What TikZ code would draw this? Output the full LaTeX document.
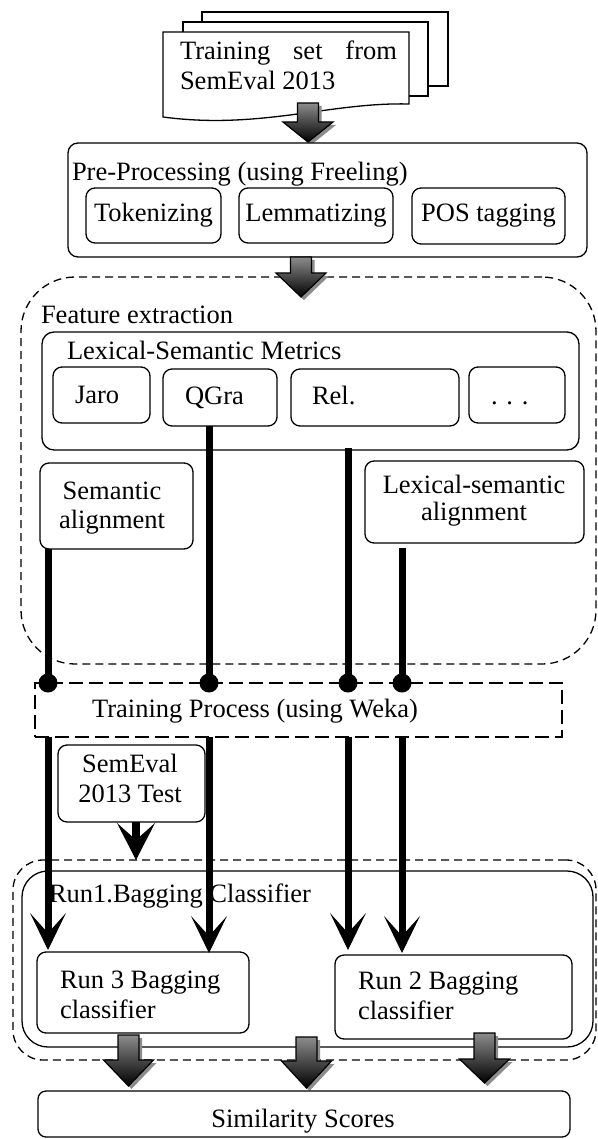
\documentclass[tikz,border=0pt]{standalone}
\usepackage{fontspec}
\setmainfont{Liberation Serif}
\usetikzlibrary{arrows.meta}
\newcommand{\blockarr}[4]{%
  \fill[black!45, shift={(3,3)}] (#1-10.5,#2) -- (#1+10.5,#2) -- (#1+10.5,#3) -- (#1+25,#3) -- (#1,#4) -- (#1-25,#3) -- (#1-10.5,#3) -- cycle;
  \shade[top color=black!45, bottom color=black, draw=black, line width=1.2pt] (#1-10.5,#2) -- (#1+10.5,#2) -- (#1+10.5,#3) -- (#1+25,#3) -- (#1,#4) -- (#1-25,#3) -- (#1-10.5,#3) -- cycle;}
\begin{document}
\begin{tikzpicture}[x=1pt,y=-1pt,
  every node/.style={inner sep=0pt, outer sep=0pt, font=\fontsize{26.5pt}{30pt}\selectfont},
  txt/.style={text height=18pt, text depth=6pt},
  box/.style={draw, line width=1.3pt, rounded corners=9pt, fill=white, anchor=north west},
  dashbox/.style={draw, line width=1.3pt, dash pattern=on 8pt off 5pt, anchor=north west},
  conn/.style={line width=7pt, -{Stealth[length=37pt,width=36pt,inset=20pt,line width=1pt]}},
  dot/.style={circle, fill=black, minimum size=19pt}
]
\useasboundingbox (0,0) rectangle (597,1139);

% training documents
\node[box, rounded corners=0pt, minimum width=246pt, minimum height=74pt] (page2) at (202,12) {};
\node[box, rounded corners=0pt, minimum width=245pt, minimum height=74pt] (page1) at (183,22) {};
\draw[line width=1.3pt, fill=white] (163,32) -- (409,32) -- (409,104) .. controls (330,102) and (260,130) .. (163,117) -- cycle;
\node[anchor=west] (doctext) at (180,65) {\parbox{217pt}{\makebox[217pt][s]{Training set from}\\SemEval 2013}};
\blockarr{308}{103}{122}{142}

% pre-processing
\node[box, rounded corners=10pt, minimum width=519pt, minimum height=114pt] (pre) at (68,143) {};
\node[txt, anchor=west] (pretitle) at (72,175) {Pre-Processing (using Freeling)};
\node[box, txt, minimum width=135pt, minimum height=55pt] (tok) at (86,188) {Tokenizing};
\node[box, txt, minimum width=154pt, minimum height=55pt] (lem) at (239,188) {Lemmatizing};
\node[box, txt, minimum width=153pt, minimum height=56pt] (pos) at (412,188) {POS tagging};

% feature extraction
\node[dashbox, rounded corners=54pt, minimum width=575pt, minimum height=387pt] (feat) at (21,277) {};
\blockarr{301}{257}{273}{297}
\node[txt, anchor=west] (feattitle) at (41,317) {Feature extraction};
\node[box, rounded corners=12pt, minimum width=537pt, minimum height=118pt] (lex) at (42,332) {};
\node[txt, anchor=west] (lextitle) at (67,353) {Lexical-Semantic Metrics};
\node[box, minimum width=97pt, minimum height=56pt] (jaro) at (53,367) {};
\node[txt, anchor=west] (jarotext) at (75,397) {Jaro};
\node[box, minimum width=114pt, minimum height=57pt] (qgra) at (163,369) {};
\node[txt, anchor=west] (qgratext) at (185,398) {QGra};
\node[box, minimum width=168pt, minimum height=57pt] (rel) at (291,369) {};
\node[txt, anchor=west] (reltext) at (312,398) {Rel.};
\node[box, minimum width=96pt, minimum height=56pt] (more) at (469,367) {};
\node[txt, anchor=west] (moretext) at (491,398) {. . .};
\node[box, minimum width=153pt, minimum height=86pt] (sem) at (40,463) {};
\node[align=center, font=\fontsize{26.5pt}{29pt}\selectfont] (semtext) at (112,508) {Semantic\\alignment};
\node[box, minimum width=219pt, minimum height=82pt] (lexsem) at (365,461) {};
\node[align=center, font=\fontsize{26.5pt}{27pt}\selectfont] (lexsemtext) at (474,501) {Lexical-semantic\\alignment};

% run boxes
\node[dashbox, rounded corners=30pt, minimum width=583pt, minimum height=200pt] (rundash) at (13,860) {};
\node[box, fill=none, rounded corners=26pt, minimum width=571pt, minimum height=176pt] (run1) at (22,871) {};
\node[txt, anchor=west] (run1text) at (49,896) {Run1.Bagging Classifier};
\node[box, minimum width=212pt, minimum height=81pt] (run3) at (37,952) {};
\node[align=left, anchor=west] (run3text) at (60,995) {Run 3 Bagging\\classifier};
\node[box, minimum width=237pt, minimum height=84pt] (run2) at (335,955) {};
\node[align=left, anchor=west] (run2text) at (358,996) {Run 2 Bagging\\classifier};

% connectors
\draw[conn] ([xshift=8pt]sem.south west) -- ([xshift=11pt, yshift=2pt]run3.north west);
\draw[conn] ([xshift=46pt]qgra.south west) -- ([xshift=172pt, yshift=-1pt]run3.north west);
\draw[conn] ([xshift=306pt, yshift=2pt]lex.south west) -- ([xshift=13pt, yshift=5pt]run2.north west);
\draw[conn] ([xshift=37pt, yshift=-5pt]lexsem.south west) -- ([xshift=67pt, yshift=2pt]run2.north west);

% training process
\node[draw, fill=white, line width=1.5pt, dash pattern=on 14pt off 6pt, anchor=north west, minimum width=527pt, minimum height=54pt] (train) at (35,683) {};
\node[txt] (traintext) at (255,711) {Training Process (using Weka)};
\node[dot] (d1) at (48,683) {};
\node[dot] (d2) at (209,683) {};
\node[dot] (d3) at (348,683) {};
\node[dot] (d4) at (402,683) {};

% test set
\node[box, minimum width=147pt, minimum height=77pt] (test) at (58,745) {};
\node[align=center] (testtext) at (130,778) {SemEval\\2013 Test};
\coordinate (testend) at (136,860);
\draw[line width=8pt, -{Stealth[length=37pt,width=38pt,inset=17pt,line width=1pt]}] ([xshift=4.5pt]test.south) -- (testend);

% output
\blockarr{128.5}{1035}{1060}{1086}
\blockarr{306.5}{1037}{1061}{1088}
\blockarr{484.5}{1033}{1059}{1083}
\node[box, rounded corners=8pt, minimum width=532pt, minimum height=46pt] (sim) at (38,1091) {};
\node[txt] (simtext) at (303,1121) {Similarity Scores};
\end{tikzpicture}
\end{document}
